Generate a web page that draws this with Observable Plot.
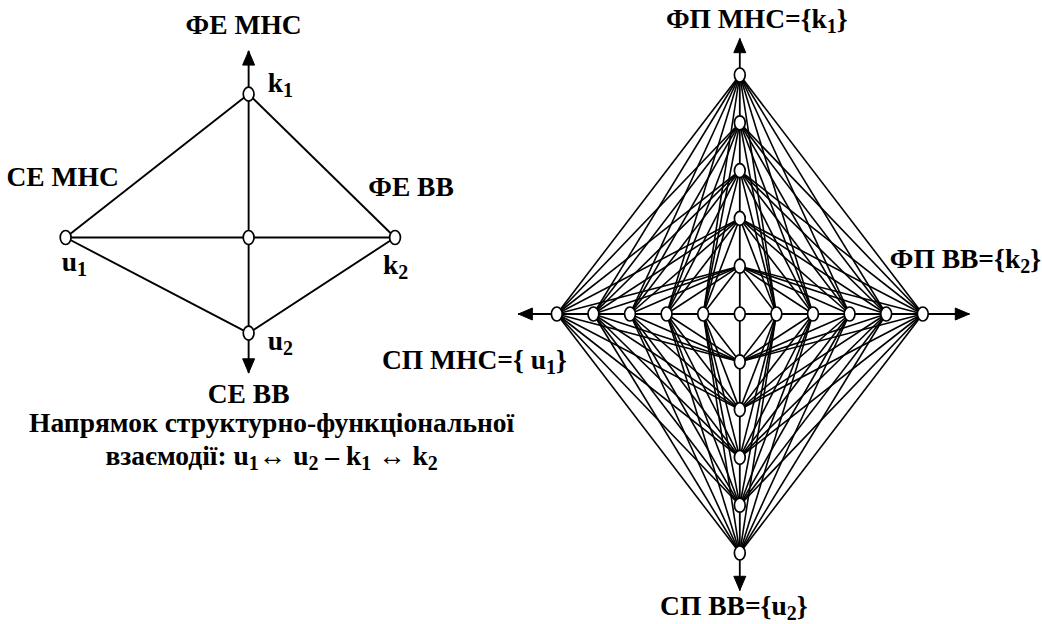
<!DOCTYPE html>
<html>
<head>
<meta charset="utf-8">
<script src="https://cdn.jsdelivr.net/npm/d3@7"></script>
<script src="https://cdn.jsdelivr.net/npm/@observablehq/plot@0.6"></script>
<style>
  html, body { margin: 0; padding: 0; background: #fff; }
  #chart svg { display: block; }
</style>
</head>
<body>
<div id="chart"></div>
<script>
// ---------------- data ----------------
// lattice levels along each axis of the right diagram (grid units)
const latticeLevels = [-5, -4, -3, -2, -1, 1, 2, 3, 4, 5];
// left diagram nodes (grid units relative to its own centre)
const leftNodeNames = ["u1", "k2", "k1", "u2", "c"];
const leftNodeX = [-5, 4, 0, 0, 0];
const leftNodeY = [0, 0, 3, -2, 0];
const leftEdges = [["u1", "k1"], ["k1", "k2"], ["k2", "u2"], ["u2", "u1"]];
// axis arrow extents (grid units)
const leftArrowTop = 3.9, leftArrowBottom = -2.83;
const rightArrowLeft = -6.05, rightArrowRight = 6.27, rightArrowTop = 5.76, rightArrowBottom = -5.78;
// texts
const leftTitles = ["ФЕ МНС", "СЕ МНС", "ФЕ ВВ", "СЕ ВВ"];
const leftNodeLabels = ["u_1", "k_2", "k_1", "u_2"];
const rightTitles = ["ФП МНС={k_1}", "ФП ВВ={k_2}", "СП МНС={ u_1}", "СП ВВ={u_2}"];
const captionLines = ["Напрямок структурно-функціональної", "взаємодії: u_1↔ u_2 – k_1 ↔ k_2"];

// ---------------- layout ----------------
const W = 1042, H = 624;
const SX = 36.6, SY = 47.8;          // px per grid unit
const CX = 739.3, CY = 313.5;        // right diagram centre (px)
const LX = -13.42, LY = 1.6;         // left diagram centre (grid units)
const FS = 27.5;

const node = (name) => {
  const i = leftNodeNames.indexOf(name);
  return {x: LX + leftNodeX[i], y: LY + leftNodeY[i]};
};

// edges
const links = [];
for (const i of latticeLevels) for (const j of latticeLevels)
  links.push({x1: i, y1: 0, x2: 0, y2: j, w: 1.6});
links.push({x1: rightArrowLeft, y1: 0, x2: rightArrowRight, y2: 0, w: 1.8});
links.push({x1: 0, y1: rightArrowBottom, x2: 0, y2: rightArrowTop, w: 1.8});
for (const [a, b] of leftEdges) {
  const p = node(a), q = node(b);
  links.push({x1: p.x, y1: p.y, x2: q.x, y2: q.y, w: 1.9});
}
links.push({x1: node("u1").x, y1: LY, x2: node("k2").x, y2: LY, w: 1.9});
links.push({x1: LX, y1: LY + leftArrowBottom, x2: LX, y2: LY + leftArrowTop, w: 1.9});

// nodes
const nodes = [];
for (const i of [...latticeLevels, 0]) nodes.push({x: i, y: 0});
for (const j of latticeLevels) nodes.push({x: 0, y: j});
leftNodeNames.forEach((n) => nodes.push(node(n)));

// arrow heads (tip + direction)
const tips = [
  {x: rightArrowLeft, y: 0, dx: -1, dy: 0},
  {x: rightArrowRight, y: 0, dx: 1, dy: 0},
  {x: 0, y: rightArrowTop, dx: 0, dy: 1},
  {x: 0, y: rightArrowBottom, dx: 0, dy: -1},
  {x: LX, y: LY + leftArrowTop, dx: 0, dy: 1},
  {x: LX, y: LY + leftArrowBottom, dx: 0, dy: -1}
];
const HEAD_L = 14, HEAD_W = 6;
const heads = [];
tips.forEach((t, k) => {
  const bx = t.x - t.dx * HEAD_L / SX, by = t.y - t.dy * HEAD_L / SY;
  const px = -t.dy, py = t.dx; // perpendicular
  const pts = [
    [t.x, t.y],
    [bx + px * HEAD_W / SX, by + py * HEAD_W / SY],
    [bx - px * HEAD_W / SX, by - py * HEAD_W / SY],
    [t.x, t.y]
  ];
  pts.forEach(([x, y]) => heads.push({x, y, k}));
});

// ellipse symbol for nodes
const RX = 5.4, RY = 7;
const ellipse = {
  draw(ctx) {
    const k = 0.5523;
    ctx.moveTo(RX, 0);
    ctx.bezierCurveTo(RX, k * RY, k * RX, RY, 0, RY);
    ctx.bezierCurveTo(-k * RX, RY, -RX, k * RY, -RX, 0);
    ctx.bezierCurveTo(-RX, -k * RY, -k * RX, -RY, 0, -RY);
    ctx.bezierCurveTo(k * RX, -RY, RX, -k * RY, RX, 0);
    ctx.closePath();
  }
};

const label = (text, ax, ay, dx, dy, anchor = "middle") =>
  Plot.text([text], {x: () => ax, y: () => ay, text: (d) => d, dx, dy,
    textAnchor: anchor, lineAnchor: "middle", fontSize: FS, fontWeight: "bold", fill: "black"});

const u1 = node("u1"), k2 = node("k2"), k1 = node("k1"), u2 = node("u2");

const chart = Plot.plot({
  width: W,
  height: H,
  margin: 0,
  x: {domain: [-CX / SX, (W - CX) / SX], axis: null},
  y: {domain: [-(H - CY) / SY, CY / SY], axis: null},
  style: {fontFamily: "'Liberation Serif', 'Times New Roman', serif", background: "white"},
  marks: [
    Plot.link(links, {x1: "x1", y1: "y1", x2: "x2", y2: "y2", stroke: "black", strokeWidth: "w"}),
    Plot.line(heads, {x: "x", y: "y", z: "k", fill: "black", stroke: "black", strokeWidth: 1}),
    Plot.dot(nodes, {x: "x", y: "y", symbol: ellipse, fill: "white", stroke: "black", strokeWidth: 1.7, r: 6}),
    // left diagram
    label(leftTitles[0], LX, LY + leftArrowTop, -5, -26),
    label(leftTitles[1], u1.x, u1.y, -3, -60),
    label(leftTitles[2], k2.x, k2.y, 16, -50),
    label(leftTitles[3], LX, LY + leftArrowBottom, 0, 21),
    label(leftNodeLabels[0], u1.x, u1.y, -4, 25, "start"),
    label(leftNodeLabels[1], k2.x, k2.y, -12, 28, "start"),
    label(leftNodeLabels[2], k1.x, k1.y, 19, -11, "start"),
    label(leftNodeLabels[3], u2.x, u2.y, 19, 8, "start"),
    label(captionLines[0], LX, LY + leftArrowBottom, 23, 50),
    label(captionLines[1], LX, LY + leftArrowBottom, 23, 83),
    // right diagram
    label(rightTitles[0], 0, rightArrowTop, 17, -19),
    label(rightTitles[1], latticeLevels[latticeLevels.length - 1], 0, -33, -55, "start"),
    label(rightTitles[2], latticeLevels[0], 0, 10, 46, "end"),
    label(rightTitles[3], 0, rightArrowBottom, -6, 16)
  ]
});

// turn "_d" into subscripts
const walker = document.createTreeWalker(chart, NodeFilter.SHOW_TEXT);
const textNodes = [];
while (walker.nextNode()) if (walker.currentNode.nodeValue.includes("_")) textNodes.push(walker.currentNode);
const NS = "http://www.w3.org/2000/svg";
for (const tn of textNodes) {
  const parts = tn.nodeValue.split(/_(\d)/);
  const frag = document.createDocumentFragment();
  let shifted = false;
  parts.forEach((p, i) => {
    if (p === "") return;
    const ts = document.createElementNS(NS, "tspan");
    ts.textContent = p;
    if (i % 2 === 1) {
      ts.setAttribute("font-size", "20");
      ts.setAttribute("dy", "5");
      shifted = true;
    } else if (shifted) {
      ts.setAttribute("dy", "-5");
      shifted = false;
    }
    frag.appendChild(ts);
  });
  tn.parentNode.replaceChild(frag, tn);
}

document.getElementById("chart").appendChild(chart);
</script>
</body>
</html>
